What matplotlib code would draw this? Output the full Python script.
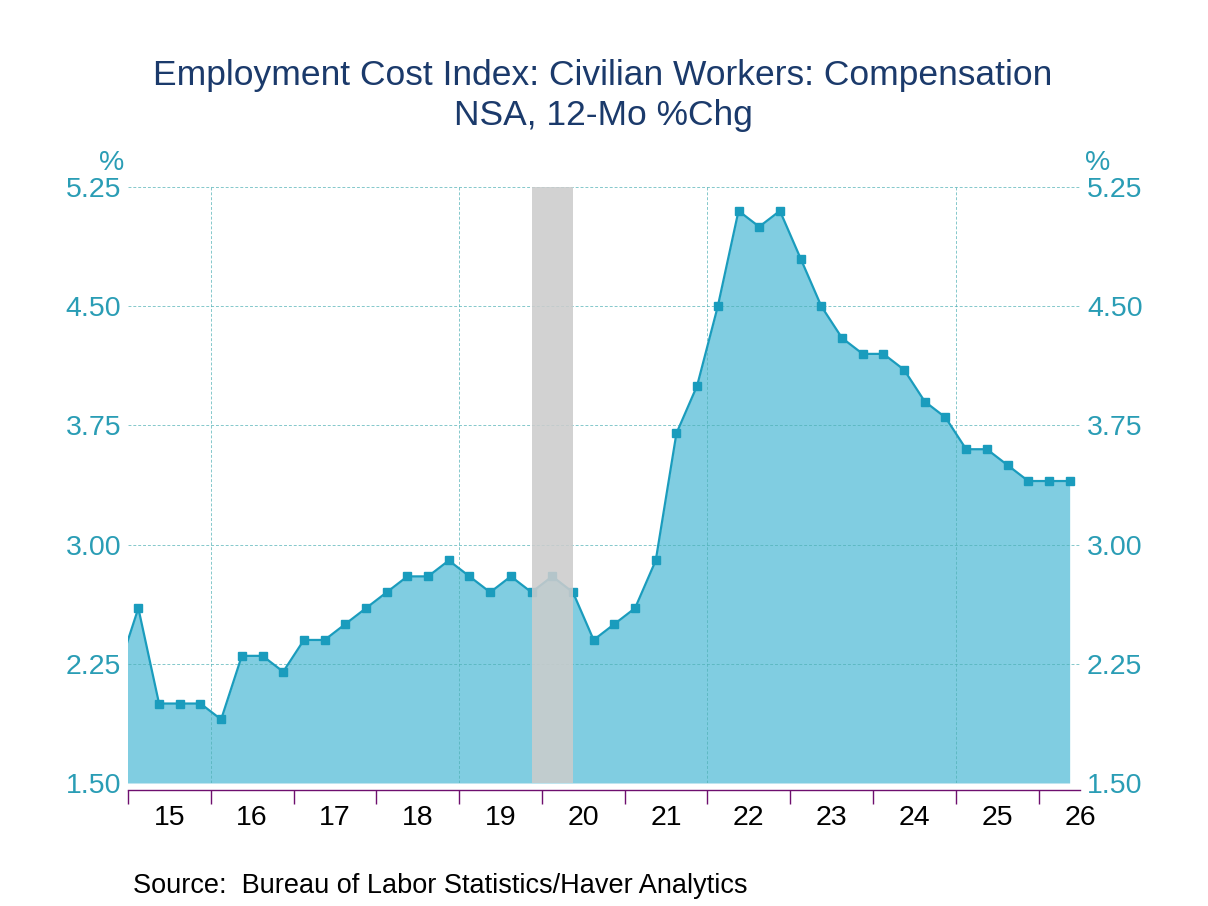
import numpy as np
import matplotlib
matplotlib.use("Agg")
import matplotlib.pyplot as plt

plt.rcParams['font.family'] = ['Liberation Sans', 'DejaVu Sans']

# quarterly 12-month % change, first value (2014 Q4) sits just left of the axis
start_year = 2014
start_quarter = 4
eci = [2.2,
       2.6, 2.0, 2.0, 2.0,
       1.9, 2.3, 2.3, 2.2,
       2.4, 2.4, 2.5, 2.6,
       2.7, 2.8, 2.8, 2.9,
       2.8, 2.7, 2.8, 2.7,
       2.8, 2.7, 2.4, 2.5,
       2.6, 2.9, 3.7, 4.0,
       4.5, 5.1, 5.0, 5.1,
       4.8, 4.5, 4.3, 4.2,
       4.2, 4.1, 3.9, 3.8,
       3.6, 3.6, 3.5, 3.4,
       3.4, 3.4]
recession = (2019.875, 2020.375)
year_labels = ['15', '16', '17', '18', '19', '20', '21', '22', '23', '24', '25', '26']
y_ticks = [1.50, 2.25, 3.00, 3.75, 4.50, 5.25]

# mid-quarter positions
t = np.array([start_year + (start_quarter - 1 + i) / 4 + 0.125 for i in range(len(eci))])
v = np.array(eci)

line_col = '#1a9cbd'
fill_col = '#80cde1'
teal = '#2a9db5'
grid_col = '#4fb0b5'
purple = '#6e0f6e'

fig = plt.figure(figsize=(12.08, 9.06), dpi=100)
ax = fig.add_axes([128 / 1208, 1 - 783 / 906, (1080 - 128) / 1208, (783 - 187) / 906])

ax.fill_between(t, v, 1.5, color=fill_col, lw=0, zorder=1)
ax.plot(t, v, color=line_col, lw=1.6, marker='s', ms=5.5, zorder=4)

for yy in y_ticks[1:]:
    ax.axhline(yy, color=grid_col, lw=0.7, ls=(0, (3, 2)), alpha=0.7, zorder=2)
for xx in [2016, 2019, 2022, 2025]:
    ax.axvline(xx, color=grid_col, lw=0.7, ls=(0, (3, 2)), alpha=0.7, zorder=2)

ax.axvspan(recession[0], recession[1], color='#cccccc', alpha=0.87, lw=0, zorder=5)

ax.set_xlim(2015, 2026.5)
ax.set_ylim(1.5, 5.25)

for s in ['top', 'left', 'right']:
    ax.spines[s].set_visible(False)
ax.spines['bottom'].set_position(('outward', 5))
ax.spines['bottom'].set_color(purple)
ax.spines['bottom'].set_linewidth(1.0)

ax.set_xticks(np.arange(2015, 2027))
ax.set_xticklabels([])
ax.tick_params(axis='x', which='major', direction='out', length=10, width=1.0, color=purple)
ax.set_xticks(np.arange(2015, 2027) + 0.5, minor=True)
ax.set_xticklabels(year_labels, minor=True)
ax.tick_params(axis='x', which='minor', length=0, pad=11, labelsize=20.5, labelcolor='black')

ax.set_yticks(y_ticks)
ax.set_yticklabels(['%.2f' % y for y in y_ticks])
ax.tick_params(axis='y', which='major', length=0, labelsize=20.5, labelcolor=teal,
               labelleft=True, labelright=True)
for lab in ax.get_yticklabels():
    pass
ax.yaxis.set_tick_params(which='major', pad=5)
for tk in ax.yaxis.get_major_ticks():
    tk.set_pad(5)

fig.text(112 / 1208, 1 - 163 / 906, '%', color=teal, fontsize=20.5, ha='center', va='center')
fig.text(1098 / 1208, 1 - 163 / 906, '%', color=teal, fontsize=20.5, ha='center', va='center')

fig.text(603 / 1208, 1 - 75 / 906, 'Employment Cost Index: Civilian Workers: Compensation',
         color='#1b3a6b', fontsize=25.5, ha='center', va='center')
fig.text(603 / 1208, 1 - 115 / 906, 'NSA, 12-Mo %Chg',
         color='#1b3a6b', fontsize=25.5, ha='center', va='center')

fig.text(133 / 1208, 1 - 886 / 906, 'Source:  Bureau of Labor Statistics/Haver Analytics',
         color='black', fontsize=19.5, ha='left', va='center')

fig.savefig('out.png', dpi=100)
